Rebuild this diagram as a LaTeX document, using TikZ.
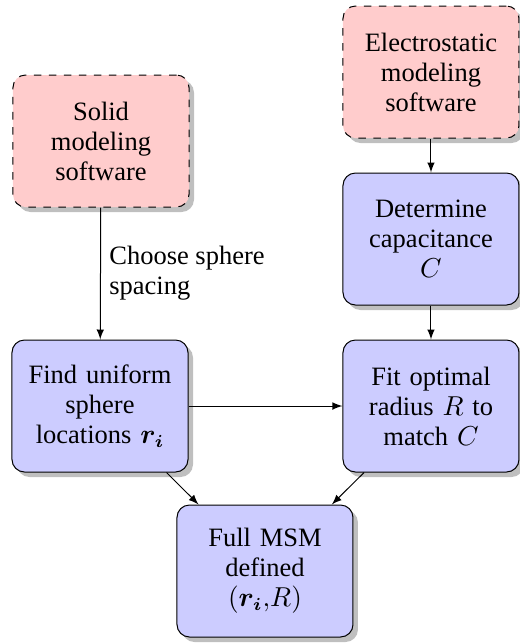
\documentclass[tikz,border=0pt]{standalone}
\usepackage{amsmath}
\usepackage{bm}
\usepackage{fontspec}
\setmainfont{Liberation Serif}
\usetikzlibrary{shadows}

\tikzset{
    stepbox/.style={draw, rounded corners=5pt, align=center, text width=66pt,
        minimum width=70.4pt, minimum height=52.8pt, inner sep=2pt,
        font=\fontsize{10.6}{12}\selectfont,
        drop shadow={shadow xshift=2pt, shadow yshift=-2pt, opacity=0.5, fill=gray}},
    softbox/.style={stepbox, fill=red!20, dashed},
    workbox/.style={stepbox, fill=blue!20},
    flow/.style={->, >=latex}
}

\begin{document}
\begin{tikzpicture}[x=0.4pt, y=-0.4pt]
            \useasboundingbox (0,0) rectangle (520,643);

            \node[softbox] (solid) at (101,141) {Solid\\ modeling\\ software};
            \node[softbox] (elec) at (431,72) {Electrostatic\\ modeling\\ software};
            \node[workbox] (cap) at (431,239) {Determine\\ capacitance\\ \(C\)};
            \node[workbox] (find) at (100,406) {Find uniform\\ sphere\\ locations \(\bm{r_i}\)};
            \node[workbox] (fit) at (431,406) {Fit optimal\\ radius \(R\) to\\ match \(C\)};
            \node[workbox] (full) at (265,571) {Full MSM\\ defined\\ \((\bm{r_i}{,}R)\)};

            \draw[flow] (solid) -- node[right, align=left, font=\fontsize{10.6}{12}\selectfont] {Choose sphere\\spacing} (find);
            \draw[flow] (elec) -- (cap);
            \draw[flow] (cap) -- (fit);
            \draw[flow] (find) -- (fit);
            \draw[flow] (find) -- (full);
            \draw[flow] (fit) -- (full);
        \end{tikzpicture}
\end{document}
